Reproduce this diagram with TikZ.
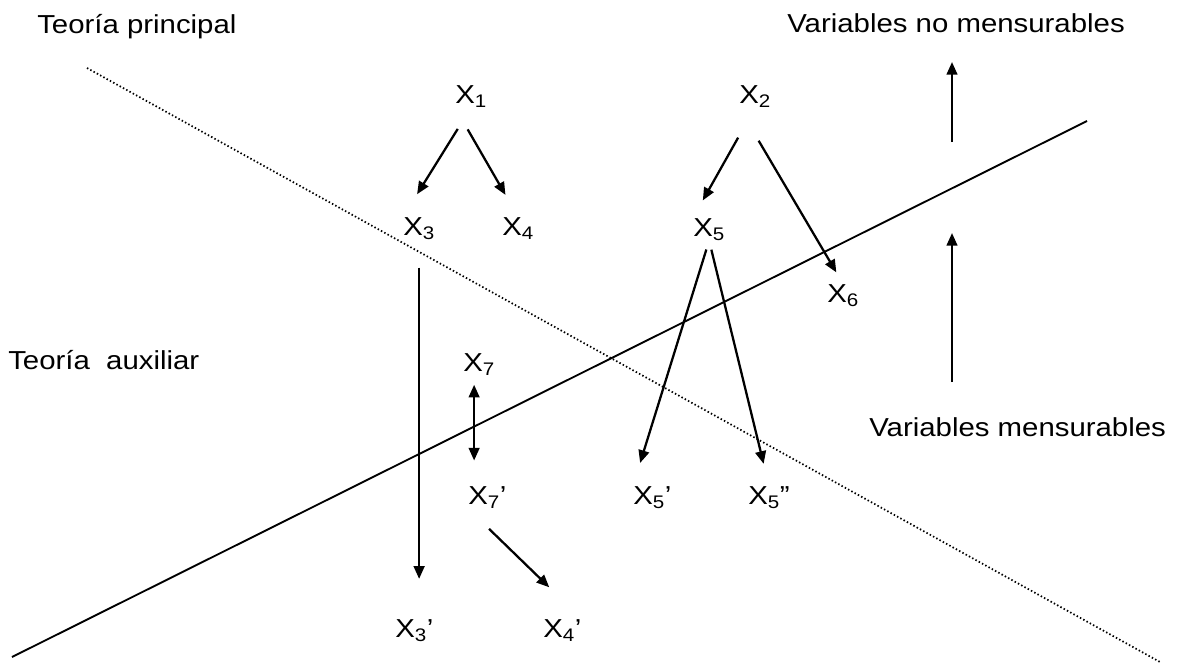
\documentclass[tikz,border=0pt]{standalone}
\usepackage{fontspec}
\setmainfont{Liberation Sans}[FakeStretch=1.13]
\usetikzlibrary{arrows.meta}

\begin{document}
\begin{tikzpicture}[x=0.75pt,y=-0.75pt,
  >={Triangle[length=9.5pt,width=8pt]},
  var/.style={anchor=base west,inner sep=0pt,font=\fontsize{19.5}{23}\selectfont},
  arr/.style={->,line width=1.7pt}]
  \useasboundingbox (0,0) rectangle (1180,662);
  % the two theory lines: solid and dotted
  \draw[line width=1.4pt] (12,657) -- (1087,121);
  \draw[line width=1.3pt,dash pattern=on 1.1pt off 1.7pt] (87,68) -- (1160,662);
  % labels
  \node[var] (tprin) at (37,33) {Teoría principal};
  \node[var] (taux) at (8,369) {Teoría\ \ auxiliar};
  \node[var] (vnomen) at (787,32) {Variables no mensurables};
  \node[var] (vmen) at (869,436) {Variables mensurables};
  % variables
  \node[var] (x1) at (455,103) {X\textsubscript{1}};
  \node[var] (x2) at (739,103) {X\textsubscript{2}};
  \node[var] (x3) at (403,235) {X\textsubscript{3}};
  \node[var] (x4) at (502,235) {X\textsubscript{4}};
  \node[var] (x5) at (693,236) {X\textsubscript{5}};
  \node[var] (x6) at (827,302) {X\textsubscript{6}};
  \node[var] (x7) at (463,371) {X\textsubscript{7}};
  \node[var] (x7p) at (468,504) {X\textsubscript{7}'};
  \node[var] (x5p) at (633,504) {X\textsubscript{5}'};
  \node[var] (x5pp) at (748,504) {X\textsubscript{5}''};
  \node[var] (x3p) at (395,637) {X\textsubscript{3}'};
  \node[var] (x4p) at (543,637) {X\textsubscript{4}'};
  % arrows between variables
  \draw[arr,shorten <=19pt,shorten >=20pt] (x1.south) -- (x3.north west);
  \draw[arr,shorten <=19pt,shorten >=19pt] (x1.south west) -- (x4.north);
  \draw[arr,shorten <=26pt,shorten >=15pt] (x2.south) -- (x5.north west);
  \draw[arr,shorten <=29pt,shorten >=10pt] (x2.south west) -- (x6.north);
  \draw[arr,shorten <=7pt,shorten >=18pt] (x5.south) -- (x5p.north west);
  \draw[arr,shorten <=7pt,shorten >=17pt] (x5.south) -- (x5pp.north);
  \draw[arr,shorten <=21pt,shorten >=30pt] (x3.south) -- (x3.south |- x3p.north);
  \draw[<->,line width=1.7pt,shorten <=7pt,shorten >=19pt] ([xshift=-3.75pt]x7.south) -- ([xshift=-3.75pt]x7.south |- x7p.north);
  \draw[arr,shorten <=22pt,shorten >=34pt] (x7p.south west) -- (x4p.north east);
  % measurable / non measurable direction
  \coordinate (up1) at (952,142);
  \coordinate (up1e) at (952,62);
  \coordinate (up2) at (952,382);
  \coordinate (up2e) at (952,233);
  \draw[arr] (up1) -- (up1e);
  \draw[arr] (up2) -- (up2e);
\end{tikzpicture}
\end{document}
